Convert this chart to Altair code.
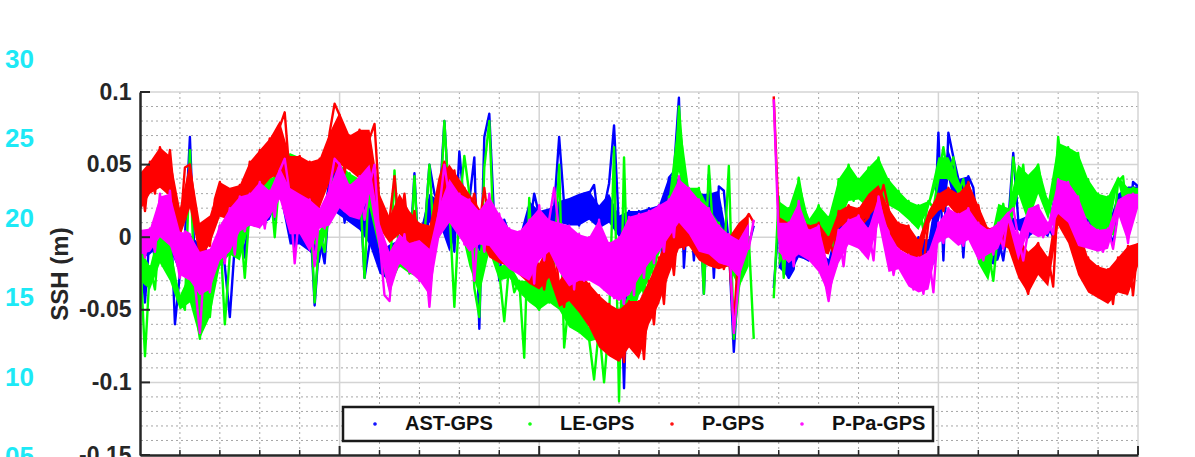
import altair as alt
import numpy as np
import pandas as pd

# Sea-surface-height differences against GPS, in mm.
# *_pts: individual samples every STEP units of x (they carry the spikes);
# *_lo / *_hi: the dense core of each trace, every BAND_STEP units of x.
STEP = 5
BAND_STEP = 10

ast_gps_pts = [
    0, -45, 5, -15, 25, -5, 28, -60, -25, 0,
    69, -20, -40, -5, -30, -10, 5, -20, -55, -5,
    20, -14, 25, 8, 35, 8, 30, 12, 42, 50,
    28, -10, 22, -5, 20, -47, 0, -18, 30, 52,
    48, 10, 40, 10, 36, -28, -5, 45, -10, -25,
    -30, -5, -15, -2, -20, 44, -25, 2, 50, 30,
    22, 80, 20, -10, 59, 20, 25, 55, -63, 69,
    85, 10, -30, 12, 2, -15, 0, -20, 5, 30,
    15, 12, -10, 20, 69, 22, 10, 27, 8, 30,
    30, 36, 8, 20, 37, 77, 5, -104, 18, 0,
    18, -10, 20, 10, 22, -35, 41, 45, 96, -21,
    32, -16, 32, -39, 43, -28, 35, 32, -5, -79,
    -25, 5, -5, 8, None, None, None, -35, 10, -21,
    -28, -22, 20, -14, -16, 5, -10, -20, -30, -15,
    0, 15, 10, 5, 18, 0, 8, 20, 25, 12,
    10, -10, 0, -5, -8, -12, 0, -20, -2, -18,
    72, -16, 72, 55, 40, -14, 42, 34, 0, -10,
    -15, -18, 0, -16, 10, 58, 12, 5, 0, 15,
    10, 5, 8, 0, 45, 20, 35, 15, 20, 5,
    12, 0, 10, -5, 8, -5, 18, 30, 0, 38,
    35,
]
ast_gps_lo = [
    -15, -12, -5, -8, -25, -20, -40, -30, -20, -10,
    -10, 8, 8, 12, 30, -5, -5, -10, -18, 20,
    15, 10, 5, -5, -25, -30, -15, -20, -25, 10,
    10, -10, 10, 10, -10, 0, -10, -15, -20, 5,
    8, -10, 10, 8, 8, 12, 6, 10, 0, 0,
    -10, 8, 0, 20, 20, 0, 0, -5, 10, -20,
    -25, -5, None, None, -21, -28, -14, -16, -20, -30,
    0, 5, 0, 8, 12, -10, -5, -12, -20, -18,
    10, 40, 10, 30, -10, -18, -16, 5, 5, 0,
    5, 0, 20, 15, 5, 0, -5, -5, 18, 0,
    30,
]
ast_gps_hi = [
    0, 5, 25, 28, 0, 2, -5, -10, 5, 10,
    20, 25, 35, 30, 48, 28, 22, 20, 0, 45,
    48, 40, 36, 40, -10, -5, -2, 0, 2, 30,
    25, 20, 25, 28, 15, 15, 12, 2, 0, 25,
    18, 20, 25, 27, 30, 32, 22, 30, 15, 18,
    18, 20, 22, 42, 40, 32, 30, 30, 32, -5,
    5, 8, None, None, 10, -10, 20, 5, -10, -15,
    15, 10, 18, 20, 25, 10, 0, -8, 0, -2,
    40, 60, 40, 42, 0, -10, 0, 15, 12, 15,
    10, 8, 45, 35, 20, 12, 10, 8, 30, 35,
    35,
]

le_gps_pts = [
    -10, -82, -20, -36, 8, -18, -5, -30, -42, -50,
    60, -45, -70, -28, -55, -18, 8, -60, -12, 10,
    15, -28, 20, 10, 38, 18, 40, 0, 44, 58,
    40, 10, 55, 22, 32, -45, 4, -10, 26, 58,
    50, 28, 44, 30, 40, -28, 48, 20, 2, -22,
    -35, 46, -20, -5, -25, 42, -28, 0, 50, -8,
    10, 80, 20, -48, 20, 56, 30, -35, -55, 48,
    80, -10, -24, -58, -18, -38, -30, -83, 27, -45,
    -50, -30, -45, -20, 50, -76, -42, -62, -48, -66,
    -70, -98, -62, -100, -58, 62, -113, 55, -65, -40,
    -20, -40, -6, -30, 4, -12, 28, 20, 90, 45,
    30, 0, 34, -39, 49, -5, 10, -18, 49, -70,
    -35, -15, 0, -70, None, None, None, -42, 28, -28,
    20, -5, 41, 20, 12, 6, 22, 2, 14, -8,
    40, 10, 50, 25, 40, 26, 48, 20, 55, 30,
    40, 22, 32, 18, 25, 12, 22, 5, 25, 20,
    40, 62, 40, 55, 30, 40, 10, 22, -4, -18,
    -9, -30, 5, 23, 0, 55, 30, 50, 10, 43,
    50, 30, 25, 12, 69, 40, 62, 34, 58, 20,
    40, 12, 30, 0, 28, 2, 38, 42, 10, 34,
    32,
]
le_gps_lo = [
    -30, -36, -18, -30, -50, -45, -70, -55, -20, -12,
    -16, 10, 18, 20, 32, 20, 22, 0, -10, 10,
    28, 30, 30, 20, -10, -35, -20, -25, -28, -15,
    0, 14, 10, -20, -40, -10, -30, -28, -38, -45,
    -50, -45, -50, -62, -66, -72, -70, -70, -70, -65,
    -40, -30, -12, 10, 45, 10, 0, -10, -18, -20,
    -35, -20, None, None, -20, -5, 20, 6, 2, -8,
    10, 25, 26, 20, 30, 22, 18, 12, 5, 20,
    40, 40, 30, 10, -18, -30, 5, 0, 30, 10,
    30, 12, 40, 34, 20, 12, 0, 2, 38, 10,
    28,
]
le_gps_hi = [
    -8, -20, 8, -5, -40, -25, -30, -18, 8, 10,
    15, 20, 38, 40, 44, 58, 55, 32, 4, 26,
    50, 44, 40, 48, 2, -22, -5, -10, 0, -8,
    10, 26, 20, 10, -10, 10, -20, -18, -30, -30,
    -30, -20, -30, -42, -48, -62, -60, -58, -50, -40,
    -20, -6, 4, 28, 85, 34, 34, 20, 10, 0,
    -15, 0, None, None, 25, 20, 41, 12, 22, 14,
    40, 50, 40, 48, 55, 40, 32, 25, 22, 25,
    55, 55, 40, 22, -4, -9, 23, 20, 50, 43,
    50, 25, 65, 62, 58, 40, 30, 28, 42, 34,
    34,
]

p_gps_pts = [
    45, 18, 52, 30, 62, 36, 60, 24, 3, 48,
    50, 22, -10, 10, -6, 26, 38, 14, 33, 12,
    36, 20, 52, 30, 60, 38, 68, 42, 76, 86,
    42, 24, 56, 28, 52, 14, 54, 38, 72, 92,
    84, 44, 70, 46, 74, 36, 68, 78, 22, 4,
    12, 42, 4, 30, -6, 18, -10, 8, -14, 22,
    40, 52, 36, 46, 20, 34, 16, 30, 8, 34,
    6, -14, 2, -18, 0, -20, -6, -26, -10, -32,
    -20, -36, -14, -2, -34, -48, -20, -44, -24, -52,
    -32, -62, -40, -76, -46, -82, -50, -86, -44, -76,
    -44, -84, -30, -60, -14, -46, 4, -26, 16, -8,
    20, -6, 10, -16, 4, -20, 0, -22, -10, -60,
    -5, 10, 16, 10, None, None, None, 97, 12, 2,
    10, -10, 15, 0, 8, -5, 10, -10, 0, -12,
    18, 6, 22, 12, 20, 10, 14, 30, 22, 36,
    20, 2, 10, -8, 8, -12, -2, -20, 10, 18,
    30, 18, 34, 22, 30, 14, 38, 12, 22, 4,
    6, -10, 8, -4, 10, -8, 0, -28, -39, -10,
    -4, -26, -14, -34, 30, 8, 24, -4, 8, -26,
    -14, -38, -20, -42, -22, -46, -14, -38, -6, -40,
    -4,
]
p_gps_lo = [
    18, 30, 34, 28, 0, 20, -15, -5, 14, 12,
    18, 24, 32, 40, 44, 26, 24, 16, 20, 38,
    50, 46, 40, 48, 6, -4, 2, -6, -10, -14,
    16, 34, 20, 12, 0, -14, -18, -20, -26, -32,
    -36, -28, -48, -44, -52, -62, -76, -82, -86, -76,
    -84, -60, -46, -26, -8, -6, -16, -20, -22, -20,
    -6, 8, None, None, 0, -10, 0, -5, -10, -12,
    6, 12, 10, 14, 22, 2, -8, -12, -20, 10,
    18, 22, 14, 12, 4, -10, -4, -8, -28, -39,
    -26, -34, 8, -4, -26, -38, -42, -46, -38, -40,
    -20,
]
p_gps_hi = [
    44, 52, 62, 56, 20, 52, 10, 15, 38, 34,
    36, 52, 60, 68, 80, 56, 56, 52, 54, 72,
    86, 70, 74, 74, 30, 14, 30, 18, 10, 8,
    40, 50, 40, 30, 20, 6, 2, 0, -6, -10,
    -18, -4, -30, -20, -24, -32, -40, -46, -50, -44,
    -44, -30, -14, 4, 16, 20, 10, 4, 0, 0,
    10, 16, None, None, 14, 10, 15, 8, 10, 0,
    18, 22, 20, 30, 36, 20, 10, 8, -2, 18,
    30, 34, 30, 38, 22, 6, 8, 10, 0, -10,
    -4, -14, 30, 24, 8, -14, -20, -22, -14, -6,
    -4,
]

p_pa_gps_pts = [
    5, -14, 6, -10, 30, 0, 32, -8, -28, 4,
    2, -32, -66, -12, -38, -8, 8, -18, 20, -12,
    28, 4, 30, 8, 38, 6, 32, 14, 46, 54,
    30, -18, 20, 2, 26, -20, 18, 6, 34, 54,
    50, 18, 36, 14, 42, 12, 36, 50, -2, -40,
    -44, -6, -18, 2, -24, -4, -30, -8, -48, -4,
    20, 50, 26, 8, 30, -5, 26, -30, 18, -10,
    30, -6, 16, -15, 6, -22, 4, -26, 12, -32,
    22, -16, 12, 34, 4, -26, 8, -36, 2, -30,
    0, -30, 12, -36, -4, -42, 0, -46, 14, -40,
    16, -28, 18, -18, 22, -10, 26, 0, 42, 10,
    34, 2, 26, -10, 20, -12, 8, -18, 2, -66,
    -30, 2, -8, 12, None, None, None, 95, 0, -15,
    10, -20, 25, -12, 5, -16, 8, -25, -44, -20,
    5, -20, 12, -5, 15, -8, 6, -16, 28, 10,
    4, -26, -8, -22, -12, -36, -14, -39, -10, -38,
    10, -4, 20, 0, 16, -6, 20, -2, 10, -16,
    5, -12, 10, -8, 16, 20, 0, -16, 4, 20,
    22, 0, 10, 2, 40, 16, 38, 10, 28, -6,
    10, -8, 5, -10, 6, -8, 16, 26, -4, 30,
    22,
]
p_pa_gps_lo = [
    -12, -10, 0, -6, -26, -30, -40, -36, -16, -10,
    4, 8, 6, 14, 26, 2, 2, -10, 6, 8,
    20, 14, 12, 30, -10, -40, -18, -24, -30, -40,
    0, 10, 0, -10, -5, -6, -15, -22, -26, -30,
    -16, -10, -24, -34, -30, -30, -34, -40, -44, -40,
    -28, -18, -10, 0, 10, 2, -10, -12, -18, -20,
    -28, -8, None, None, -10, -18, -12, -16, -24, -40,
    -18, -5, -8, -16, 10, -24, -22, -34, -38, -36,
    -4, 0, -6, -2, -16, -12, -8, 10, -16, 4,
    0, 2, 16, 10, -6, -8, -10, -8, 16, -4,
    20,
]
p_pa_gps_hi = [
    5, 6, 28, 30, 4, 2, -10, -8, 8, 20,
    28, 30, 38, 32, 48, 34, 30, 26, 20, 34,
    52, 36, 42, 50, 10, -10, 2, -4, -2, -8,
    22, 40, 30, 26, 18, 28, 16, 6, 4, 12,
    20, 12, 10, 8, 2, 0, 12, -4, 0, 14,
    16, 18, 22, 26, 40, 34, 26, 20, 8, 2,
    -2, 10, None, None, 10, 10, 24, 5, 8, -20,
    5, 12, 15, 6, 28, 4, -8, -12, -14, -10,
    10, 20, 16, 20, 10, 5, 10, 18, 0, 20,
    22, 10, 40, 38, 28, 10, 5, 6, 26, 30,
    30,
]

series_names = ["AST-GPS", "LE-GPS", "P-GPS", "P-Pa-GPS"]
series_colors = ["#0000ff", "#00ff00", "#ff0000", "#ff00ff"]
series_pts = [ast_gps_pts, le_gps_pts, p_gps_pts, p_pa_gps_pts]
series_lo = [ast_gps_lo, le_gps_lo, p_gps_lo, p_pa_gps_lo]
series_hi = [ast_gps_hi, le_gps_hi, p_gps_hi, p_pa_gps_hi]

y_ticks = [-0.15, -0.1, -0.05, 0, 0.05, 0.1]
side_labels = ["30", "25", "20", "15", "10", "05"]
side_values = [30, 25, 20, 15, 10, 5]

X_MAX = 1000
W, H = 998, 363
INK = "#262626"
FONT = "Liberation Sans"

# Long tables; a missing sample starts a new path segment.
pt_rows, band_rows = [], []
for name, pts, lo, hi in zip(series_names, series_pts, series_lo, series_hi):
    seg = 0
    for i, v in enumerate(pts):
        if v is None:
            seg += 1
            continue
        pt_rows.append({"x": i * STEP, "ssh": v / 1000.0, "series": name, "seg": seg})
    seg = 0
    for k, (a, b) in enumerate(zip(lo, hi)):
        if a is None:
            seg += 1
            continue
        band_rows.append({"x": k * BAND_STEP, "lo": a / 1000.0, "hi": b / 1000.0,
                          "series": name, "seg": seg})
pts_df = pd.DataFrame(pt_rows)
band_df = pd.DataFrame(band_rows)

x_scale = alt.Scale(domain=[0, X_MAX], nice=False, zero=False)
y_scale = alt.Scale(domain=[-0.15, 0.1], nice=False, zero=False)
color_scale = alt.Scale(domain=series_names, range=series_colors)

minor_y = [round(v, 2) for v in np.arange(-0.14, 0.1, 0.01) if round(v * 100) % 5 != 0]
major_y = [-0.1, -0.05, 0.0, 0.05, 0.1]
minor_x = [v for v in range(40, X_MAX, 40) if v % 200 != 0]
major_x = list(range(200, X_MAX + 1, 200))

# one axis / legend definition per channel, shared by every layer so they merge cleanly
y_axis = alt.Axis(
    values=y_ticks, labelExpr="'' + datum.value", ticks=False, grid=False,
    domain=True, domainColor=INK, domainWidth=2.5,
    labelFont=FONT, labelFontWeight="bold", labelFontSize=23, labelColor=INK,
    labelPadding=9, labelOverlap=False,
    title="SSH (m)", titleFont=FONT, titleFontWeight="bold", titleFontSize=24,
    titleColor=INK, titlePadding=6, zindex=2,
)
x_axis = alt.Axis(labels=False, ticks=False, grid=False, domain=True,
                  domainColor=INK, domainWidth=2.5, title=None, zindex=2)
legend = alt.Legend(
    orient="none", legendX=203, legendY=315, direction="horizontal", title=None,
    labelFont=FONT, labelFontSize=20, labelFontWeight="bold", labelColor="#111111",
    symbolType="circle", symbolSize=2, symbolStrokeWidth=2.2,
    symbolOffset=15, labelOffset=20, columnPadding=12, padding=7,
    strokeColor="#1a1a1a", fillColor="white",
)


def X(field):
    return alt.X(field, scale=x_scale, axis=x_axis)


def Y(field):
    return alt.Y(field, scale=y_scale, axis=y_axis)


def C():
    return alt.Color("series:N", scale=color_scale, legend=legend)


# grid: dotted minor lines, solid light major lines
grid_minor_h = alt.Chart(pd.DataFrame({"ssh": minor_y})).mark_rule(
    color="#a6a6a6", strokeWidth=1, strokeDash=[2, 3]
).encode(y=Y("ssh:Q"))
grid_minor_v = alt.Chart(pd.DataFrame({"x": minor_x})).mark_rule(
    color="#a6a6a6", strokeWidth=1, strokeDash=[2, 3]
).encode(x=X("x:Q"))
grid_major_h = alt.Chart(pd.DataFrame({"ssh": major_y})).mark_rule(
    color="#d4d4d4", strokeWidth=1.5
).encode(y=Y("ssh:Q"))
grid_major_v = alt.Chart(pd.DataFrame({"x": major_x})).mark_rule(
    color="#d4d4d4", strokeWidth=1.5
).encode(x=X("x:Q"))

traces = []
for name in series_names:
    band = alt.Chart(band_df).transform_filter(alt.datum.series == name).mark_area(
        clip=True, opacity=1
    ).encode(
        x=X("x:Q"), y=Y("lo:Q"), y2="hi:Q", color=C(), detail="seg:N",
    )
    line = alt.Chart(pts_df).transform_filter(alt.datum.series == name).mark_line(
        strokeWidth=2.4, clip=True, strokeJoin="round"
    ).encode(
        x=X("x:Q"), y=Y("ssh:Q"), color=C(), detail="seg:N",
    )
    traces += [band, line]

# inward tick marks on the left and bottom axes
y_tick_marks = alt.Chart(pd.DataFrame({"ssh": y_ticks})).mark_rule(
    color=INK, strokeWidth=2
).encode(y=Y("ssh:Q"), x=alt.value(0), x2=alt.value(10))
x_major_ticks = alt.Chart(pd.DataFrame({"x": major_x})).mark_rule(
    color=INK, strokeWidth=2
).encode(x=X("x:Q"), y=alt.value(H), y2=alt.value(H - 9))
x_minor_ticks = alt.Chart(pd.DataFrame({"x": minor_x})).mark_rule(
    color=INK, strokeWidth=1.5
).encode(x=X("x:Q"), y=alt.value(H), y2=alt.value(H - 5))

# cyan scale numbers of the neighbouring panel on the far left, placed on the
# same vertical scale (each 5 units of that panel spans 0.01094 m here)
side = alt.Chart(pd.DataFrame({"v": side_values, "t": side_labels})).transform_calculate(
    ssh="-0.1514 + (datum.v - 5) * 0.01094"
).mark_text(
    align="right", baseline="middle", font=FONT, fontWeight="bold",
    fontSize=26, color="#1de9f6",
).encode(
    y=Y("ssh:Q"),
    x=alt.value(-106),
    text="t:N",
)

chart = alt.layer(
    grid_minor_h, grid_minor_v, grid_major_h, grid_major_v,
    *traces,
    y_tick_marks, x_major_ticks, x_minor_ticks,
    side,
).properties(
    width=W, height=H,
    autosize=alt.AutoSizeParams(type="none"),
    padding={"left": 140, "top": 92, "right": 57, "bottom": 2},
    background="white",
).configure_view(stroke=None).configure_legend(strokeWidth=2.5)

chart.save("out.html", embed_options={"renderer": "svg", "actions": False})
